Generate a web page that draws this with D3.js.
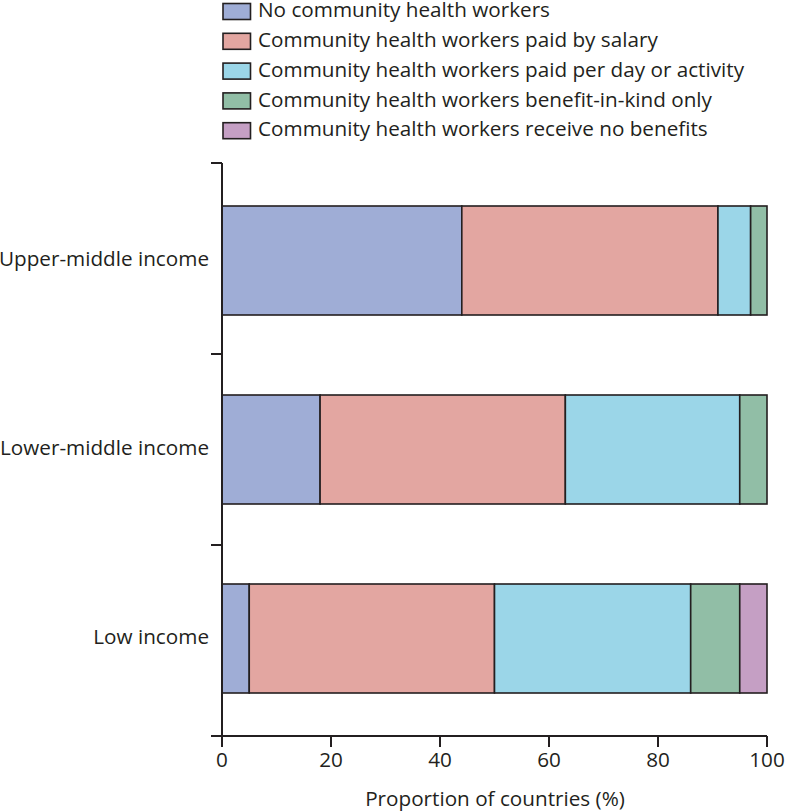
<!DOCTYPE html>
<html>
<head>
<meta charset="utf-8">
<script src="https://cdn.jsdelivr.net/npm/d3@7"></script>
<style>
  body { margin: 0; background: #fff; }
  text { font-family: "Open Sans", "Noto Sans", sans-serif; fill: #231f20; }
</style>
</head>
<body>
<div id="chart"></div>
<script>
let groups = ["Upper-middle income", "Lower-middle income", "Low income"];
let seriesNames = [
    "No community health workers",
    "Community health workers paid by salary",
    "Community health workers paid per day or activity",
    "Community health workers benefit-in-kind only",
    "Community health workers receive no benefits"
];
let noChw      = [44, 18, 5];
let salary     = [47, 45, 45];
let perDay     = [6, 32, 36];
let inKind     = [3, 5, 9];
let noBenefits = [0, 0, 5];
let xTicks = [0, 20, 40, 60, 80, 100];

let colors = ["#9fadd6", "#e3a6a1", "#9bd6e8", "#91bea6", "#c59fc4"];
let ink = "#231f20";
let fontSize = "20.7px";

let width = 785,
    height = 812;

let svg = d3.select("#chart")
    .append("svg")
    .attr("width", width)
    .attr("height", height);

let rows = groups.map(function(g, i) {
    return {group: g, s0: noChw[i], s1: salary[i], s2: perDay[i], s3: inKind[i], s4: noBenefits[i]};
});
let keys = ["s0", "s1", "s2", "s3", "s4"];
let stacked = d3.stack().keys(keys)(rows);

let x = d3.scaleLinear().domain([0, 100]).range([222, 767]);
// bands for the axis ticks, and a tighter band scale for the bars
let y = d3.scaleBand().domain(groups).range([163, 736]);
let yBar = d3.scaleBand().domain(groups).range([206, 693]).paddingInner(0.4233);

// bars
stacked.forEach(function(layer, k) {
    svg.selectAll(".bar" + k)
        .data(layer.filter(function(d) { return d[1] - d[0] > 0; }))
        .enter()
        .append("rect")
        .attr("x", function(d) { return x(d[0]); })
        .attr("y", function(d) { return yBar(d.data.group); })
        .attr("width", function(d) { return x(d[1]) - x(d[0]); })
        .attr("height", yBar.bandwidth())
        .style("fill", colors[k])
        .style("stroke", ink)
        .style("stroke-width", 1.6);
});

// y axis
let yAxis = svg.append("g").attr("transform", "translate(" + x(0) + ",0)");
yAxis.append("line")
    .attr("y1", y.range()[0]).attr("y2", y.range()[1])
    .style("stroke", ink).style("stroke-width", 2);
let bounds = groups.map(function(g) { return y(g); });
yAxis.selectAll(".ytick")
    .data(bounds)
    .enter()
    .append("line")
    .attr("x1", -11).attr("x2", 0)
    .attr("y1", function(d) { return d; }).attr("y2", function(d) { return d; })
    .style("stroke", ink).style("stroke-width", 2);
yAxis.selectAll(".ylab")
    .data(groups)
    .enter()
    .append("text")
    .attr("x", -13)
    .attr("y", function(d) { return yBar(d) + yBar.bandwidth() / 2; })
    .attr("dy", "0.27em")
    .attr("text-anchor", "end")
    .style("font-size", fontSize)
    .text(function(d) { return d; });

// x axis
let xAxis = svg.append("g").attr("transform", "translate(0," + y.range()[1] + ")");
xAxis.append("line")
    .attr("x1", x(0) - 11).attr("x2", x(100))
    .style("stroke", ink).style("stroke-width", 2);
xAxis.selectAll(".xtick")
    .data(xTicks)
    .enter()
    .append("line")
    .attr("x1", function(d) { return x(d); }).attr("x2", function(d) { return x(d); })
    .attr("y1", 0).attr("y2", 11)
    .style("stroke", ink).style("stroke-width", 2);
xAxis.selectAll(".xlab")
    .data(xTicks)
    .enter()
    .append("text")
    .attr("x", function(d) { return x(d); })
    .attr("y", 31)
    .attr("text-anchor", "middle")
    .style("font-size", fontSize)
    .text(function(d) { return d; });
svg.append("text")
    .attr("x", 495)
    .attr("y", 806)
    .attr("text-anchor", "middle")
    .style("font-size", fontSize)
    .text("Proportion of countries (%)");

// legend
let legend = svg.selectAll(".legend")
    .data(seriesNames)
    .enter()
    .append("g")
    .attr("transform", function(d, i) { return "translate(223," + (3.5 + i * 29.8) + ")"; });
legend.append("rect")
    .attr("width", 27.5).attr("height", 16)
    .style("fill", function(d, i) { return colors[i]; })
    .style("stroke", ink).style("stroke-width", 1.6);
legend.append("text")
    .attr("x", 35)
    .attr("y", 8)
    .attr("dy", "0.28em")
    .style("font-size", fontSize)
    .text(function(d) { return d; });
</script>
</body>
</html>
